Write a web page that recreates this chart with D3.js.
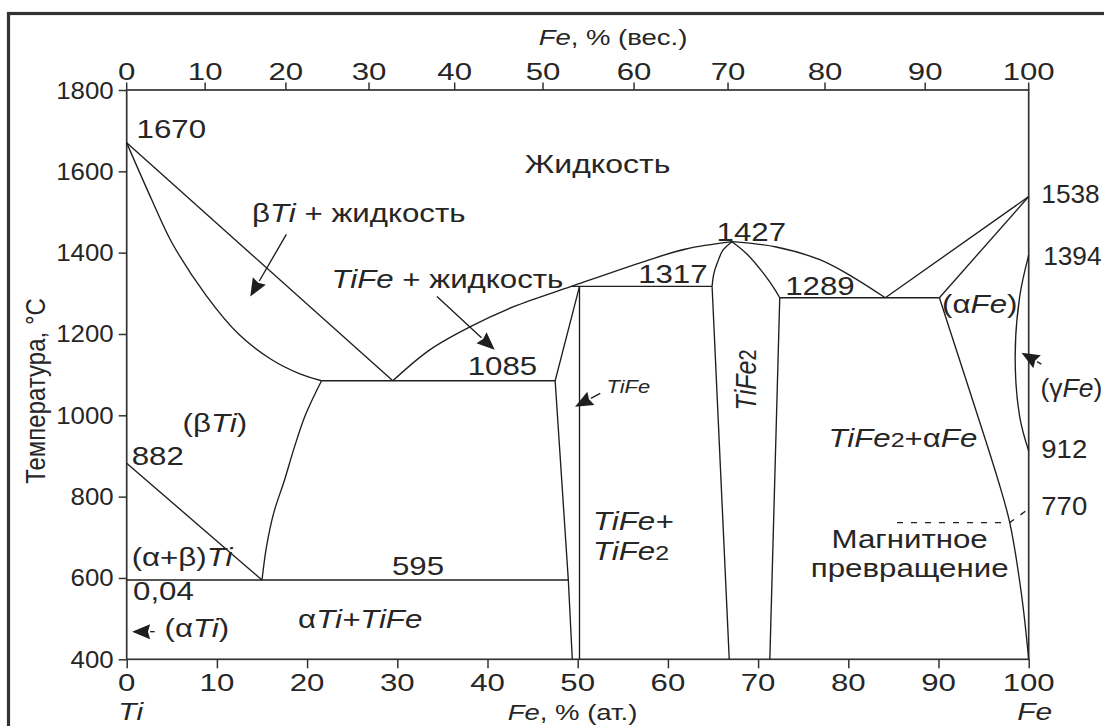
<!DOCTYPE html>
<html>
<head>
<meta charset="utf-8">
<script src="https://cdn.jsdelivr.net/npm/d3@7"></script>
<style>
  html, body { margin: 0; padding: 0; background: #fff; }
  svg { display: block; font-family: "Liberation Sans", Arial, sans-serif; }
</style>
</head>
<body>
<svg id="chart" width="1104" height="726"></svg>
<script>
// ---- Ti–Fe phase diagram: boundaries as [Fe at.%, temperature °C] ----
const liquidusBetaTi  = [[0,1670],[29.5,1085]];
const solidusBetaTi   = [[0,1670],[2.8,1529],[5.0,1425],[8.9,1292],[12.4,1200],[16,1138],[19.2,1102],[21.6,1085]];
const betaTransus     = [[0,882],[15,595]];
const betaSolvus      = [[15,595],[15.5,677],[16.3,760],[17.5,841],[18.5,915],[19.8,1000],[21.6,1085]];
const liquidusTiFe    = [[29.5,1085],[33.6,1161],[38.1,1218],[42.9,1267],[49.3,1317],[57.6,1380],[62,1409],[67.1,1427]];
const liquidusTiFe2   = [[67.1,1427],[72,1414],[76.9,1382],[80.5,1340],[84.1,1289]];
const tiFeLeft        = [[50.2,1317],[47.5,1085],[48.96,595],[49.4,400]];
const tiFeRight       = [[50.2,1317],[50.2,400]];
const tiFe2LeftTop    = [[67.1,1427],[66.1,1406],[65.6,1382],[65.1,1349],[64.9,1317]];
const tiFe2LeftLow    = [[64.9,1317],[66.8,400]];
const tiFe2RightTop   = [[67.1,1427],[68.7,1398],[70.6,1349],[71.9,1308],[72.4,1289]];
const tiFe2RightLow   = [[72.4,1289],[71.3,400]];
const eutectoid595    = [[0,595],[48.96,595]];
const eutectic1085    = [[21.6,1085],[47.5,1085]];
const peritectic1317  = [[49.3,1317],[64.9,1317]];
const eutectic1289    = [[72.4,1289],[90.1,1289]];
const liquidusFe      = [[84.1,1289],[100,1538]];
const solidusFe       = [[90.1,1289],[100,1538]];
const solvusAlphaFe   = [[90.1,1289],[93.6,1050],[96.6,841],[97.9,736],[99.2,560],[100,400]];
const gammaLoop       = [[100,1394],[99.0,1292],[98.5,1143],[99.0,997],[100,912]];
const magneticLine    = [[85.4,736],[97.9,736],[100,770]];

// ---- axes ----
const tempTicks = [400,600,800,1000,1200,1400,1600,1800];
const atTicks   = [0,10,20,30,40,50,60,70,80,90,100];
const wtTicks   = [0,10,20,30,40,50,60,70,80,90,100];

// ---- leader arrows: [from, to] ----
const arrows = [
  [[17.7,1445],[13.7,1292]],
  [[34.4,1292],[40.8,1161]],
  [[52.5,1054],[49.7,1021]],
  [[101.4,1126],[99.2,1154]],
  [[3.1,468],[0.6,468]]
];

// ---- labels: anchor point [Fe at.%, °C]; parts: [text, flags] (i = italic, s = small) ----
const labels = [
  {p:[1.1,1682],   parts:[["1670"]]},
  {p:[52.2,1596],  parts:[["Жидкость"]], anchor:"middle", sx:1.28},
  {p:[13.9,1475],  parts:[["β"],["Ti","i"],[" + жидкость"]]},
  {p:[22.7,1314],  parts:[["TiFe","i"],[" + жидкость"]]},
  {p:[56.7,1325],  parts:[["1317"]]},
  {p:[37.8,1099],  parts:[["1085"]]},
  {p:[65.4,1429],  parts:[["1427"]]},
  {p:[73.0,1296],  parts:[["1289"]]},
  {p:[101.4,1522], parts:[["1538"]], sx:1.05},
  {p:[101.6,1370], parts:[["1394"]], sx:1.05},
  {p:[90.4,1252],  parts:[["(α"],["Fe","i"],[")"]]},
  {p:[101.3,1046], parts:[["(γ"],["Fe","i"],[")"]], sx:1.06},
  {p:[101.4,895],  parts:[["912"]], sx:1.1},
  {p:[101.4,755],  parts:[["770"]], sx:1.1},
  {p:[77.8,923],   parts:[["TiFe","i"],["2","s"],["+α"],["Fe","i"]]},
  {p:[86.8,673],   parts:[["Магнитное"]], anchor:"middle"},
  {p:[86.8,603],   parts:[["превращение"]], anchor:"middle"},
  {p:[51.7,718],   parts:[["TiFe+","i"]]},
  {p:[51.7,644],   parts:[["TiFe","i"],["2","s"]]},
  {p:[29.4,607],   parts:[["595"]]},
  {p:[19.0,476],   parts:[["α"],["Ti+TiFe","i"]]},
  {p:[4.2,456],    parts:[["(α"],["Ti","i"],[")"]]},
  {p:[0.7,546],    parts:[["0,04"]]},
  {p:[0.55,629],   parts:[["(α+β)"],["Ti","i"]]},
  {p:[0.55,878],   parts:[["882"]]},
  {p:[6.2,960],    parts:[["(β"],["Ti","i"],[")"]]},
  {p:[53.2,1054],  parts:[["TiFe","i"]], size:19, sx:1.15},
  {p:[69.8,1087],  parts:[["TiFe","i"],["2","s"]], anchor:"middle", rotate:true, size:25, sx:1.2}
];

// ---- layout ----
const W = 1104, H = 726;
const plot = {left:126.7, right:1028.7, top:90, bottom:659.3};
const FS = 25, SX = 1.25, LINE = "#1e1e1e", INK = "#262626";

const svg = d3.select("#chart");
const x = d3.scaleLinear().domain([0,100]).range([plot.left, plot.right]);
const y = d3.scaleLinear().domain([400,1800]).range([plot.bottom, plot.top]);

// mass % Fe -> atomic % Fe
const M_TI = 47.867, M_FE = 55.845;
const wtToAt = w => { const a = w / M_FE, b = (100 - w) / M_TI; return 100 * a / (a + b); };

// outer frame
svg.append("rect").attr("x", 8.5).attr("y", 13.5).attr("width", W + 10).attr("height", H + 10)
  .attr("fill", "none").attr("stroke", "#333").attr("stroke-width", 3.2);

function addText(g, px, py, parts, o = {}) {
  const sx = o.sx || SX;
  const tf = o.rotate
    ? `translate(${px},${py}) rotate(-90) scale(1,${sx})`
    : `translate(${px},${py}) scale(${sx},1)`;
  const t = g.append("text").attr("transform", tf)
    .attr("text-anchor", o.anchor || "start")
    .attr("fill", INK)
    .style("font-size", (o.size || FS) + "px");
  parts.forEach(([s, f]) => {
    const ts = t.append("tspan").text(s);
    if (f && f.includes("i")) ts.style("font-style", "italic");
    if (f && f.includes("s")) ts.style("font-size", "0.8em");
  });
  return t;
}

// ---- axes ----
const axG = svg.append("g").attr("class", "axes");
const yAxis = d3.axisLeft(y).tickValues(tempTicks).tickSize(8).tickFormat("");
axG.append("g").attr("transform", `translate(${plot.left},0)`).call(yAxis);
const xAxis = d3.axisBottom(x).tickValues(atTicks).tickSize(9).tickFormat("");
axG.append("g").attr("transform", `translate(0,${plot.bottom})`).call(xAxis);
axG.selectAll(".domain").remove();
axG.selectAll(".tick line").attr("stroke", "#333").attr("stroke-width", 1.5);

// top (mass %) ticks
axG.selectAll(".wt").data(wtTicks).join("line").attr("class", "wt")
  .attr("x1", d => x(wtToAt(d))).attr("x2", d => x(wtToAt(d)))
  .attr("y1", plot.top).attr("y2", plot.top - 7.5)
  .attr("stroke", "#333").attr("stroke-width", 1.5);

// plot border
axG.append("rect").attr("x", plot.left).attr("y", plot.top)
  .attr("width", plot.right - plot.left).attr("height", plot.bottom - plot.top)
  .attr("fill", "none").attr("stroke", "#333").attr("stroke-width", 1.7);

// tick labels
tempTicks.forEach(t => addText(axG, plot.left - 13, y(t) + 8.5, [[String(t)]], {anchor:"end", sx:1.1, size:23.5}));
atTicks.forEach(v => addText(axG, x(v), plot.bottom + 32, [[String(v)]], {anchor:"middle", size:24, sx:1.3}));
wtTicks.forEach(v => addText(axG, x(wtToAt(v)), plot.top - 10, [[String(v)]], {anchor:"middle", size:24, sx:1.3}));

// axis titles
addText(axG, 572.5, 720, [["Fe","i"],[", % (ат.)"]], {anchor:"middle", size:22});
addText(axG, x(wtToAt(50)) + 70, 45, [["Fe","i"],[", % (вес.)"]], {anchor:"middle", size:22});
addText(axG, x(0) + 4, 720, [["Ti","i"]], {anchor:"middle", size:24});
addText(axG, x(100) + 6, 720, [["Fe","i"]], {anchor:"middle", size:24});
addText(axG, 45, 391, [["Температура, °C"]], {anchor:"middle", rotate:true, sx:1.15, size:24});

// ---- phase boundaries ----
const g = svg.append("g").attr("fill", "none").attr("stroke", LINE).attr("stroke-width", 1.35);
const lin = d3.line().x(d => x(d[0])).y(d => y(d[1]));
const smooth = d3.line().x(d => x(d[0])).y(d => y(d[1])).curve(d3.curveCatmullRom.alpha(0.5));

[solidusBetaTi, betaSolvus, liquidusTiFe, liquidusTiFe2,
 tiFe2LeftTop, tiFe2RightTop, solvusAlphaFe, gammaLoop]
  .forEach(d => g.append("path").attr("d", smooth(d)));
[liquidusBetaTi, betaTransus, tiFeLeft, tiFeRight, tiFe2LeftLow, tiFe2RightLow,
 eutectoid595, eutectic1085, peritectic1317, eutectic1289, liquidusFe, solidusFe]
  .forEach(d => g.append("path").attr("d", lin(d)));
g.append("path").attr("d", lin(magneticLine)).attr("stroke-dasharray", "6,8");

// ---- arrows ----
const ag = svg.append("g");
arrows.forEach(([a, b]) => {
  const x0 = x(a[0]), y0 = y(a[1]), x1 = x(b[0]), y1 = y(b[1]);
  const ang = Math.atan2(y1 - y0, x1 - x0);
  const L = 18, Wd = 7.5;
  const bx = x1 - L * Math.cos(ang), by = y1 - L * Math.sin(ang);
  ag.append("line").attr("x1", x0).attr("y1", y0).attr("x2", bx).attr("y2", by)
    .attr("stroke", LINE).attr("stroke-width", 1.35);
  const px = -Math.sin(ang) * Wd, py = Math.cos(ang) * Wd;
  const nx = x1 - 0.88 * L * Math.cos(ang), ny = y1 - 0.88 * L * Math.sin(ang);
  ag.append("path")
    .attr("d", `M${x1},${y1}L${bx + px},${by + py}L${nx},${ny}L${bx - px},${by - py}Z`)
    .attr("fill", LINE);
});

// ---- labels ----
const lg = svg.append("g");
labels.forEach(l => addText(lg, x(l.p[0]), y(l.p[1]), l.parts,
  {anchor: l.anchor, rotate: l.rotate, size: l.size, sx: l.sx}));
</script>
</body>
</html>
